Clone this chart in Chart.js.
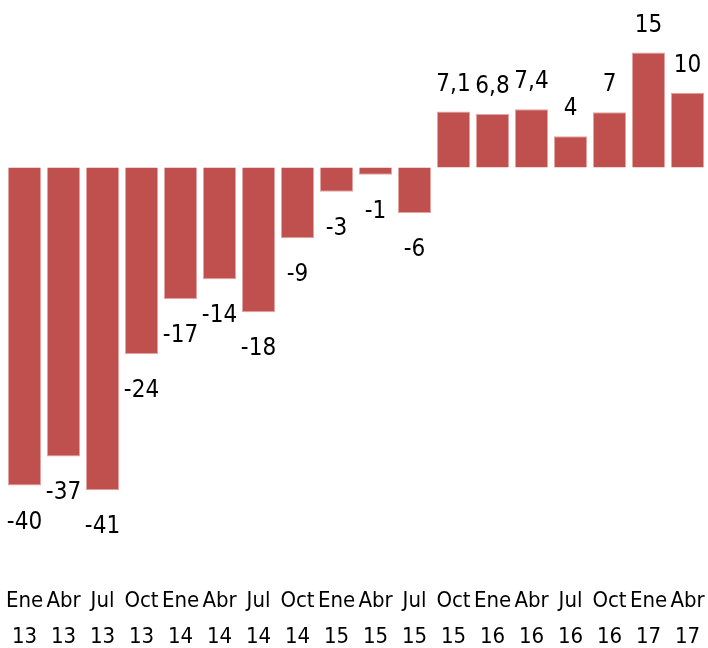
<!DOCTYPE html>
<html>
<head>
<meta charset="utf-8">
<script src="https://cdn.jsdelivr.net/npm/chart.js@4"></script>
<style>
  html, body { margin: 0; padding: 0; background: #fff; }
  #wrap { width: 708px; height: 648px; }
</style>
</head>
<body>
<div id="wrap"><canvas id="barChart" width="708" height="648"></canvas></div>
<script>
// trimestres
var meses = ['Ene', 'Abr', 'Jul', 'Oct', 'Ene', 'Abr', 'Jul', 'Oct', 'Ene', 'Abr', 'Jul', 'Oct', 'Ene', 'Abr', 'Jul', 'Oct', 'Ene', 'Abr'];
var anios = ['13', '13', '13', '13', '14', '14', '14', '14', '15', '15', '15', '15', '16', '16', '16', '16', '17', '17'];
var valores = [-40.4, -36.7, -41, -23.7, -16.7, -14.2, -18.4, -9, -3.1, -0.93, -5.8, 7.1, 6.8, 7.4, 3.95, 7, 14.6, 9.5];
var etiquetas = ['-40', '-37', '-41', '-24', '-17', '-14', '-18', '-9', '-3', '-1', '-6', '7,1', '6,8', '7,4', '4', '7', '15', '10'];

var fuente = "'DejaVu Sans Condensed', Lato, sans-serif";

var etiquetasPlugin = {
  id: 'etiquetas',
  afterDatasetsDraw: function(chart) {
    var ctx = chart.ctx;
    var meta = chart.getDatasetMeta(0);
    ctx.save();
    ctx.font = '24px ' + fuente;
    ctx.fillStyle = '#000';
    ctx.textAlign = 'center';
    ctx.textBaseline = 'alphabetic';
    meta.data.forEach(function(bar, i) {
      var y = valores[i] >= 0 ? bar.y - 21 : bar.y + 43;
      ctx.fillText(etiquetas[i], bar.x, y);
    });
    ctx.restore();
  }
};

var ctx = document.getElementById('barChart').getContext('2d');
var myChart = new Chart(ctx, {
  type: 'bar',
  data: {
    labels: meses.map(function(m, i) { return [m, anios[i]]; }),
    datasets: [{
      data: valores,
      backgroundColor: '#c0504d',
      borderColor: '#e3a3a1',
      borderWidth: 1,
      barPercentage: 0.85,
      categoryPercentage: 1
    }]
  },
  options: {
    responsive: false,
    animation: false,
    layout: { padding: { left: 5, right: 1, top: 10, bottom: -10 } },
    plugins: {
      legend: { display: false },
      tooltip: { enabled: false }
    },
    scales: {
      x: {
        grid: { display: false, drawTicks: false },
        border: { display: false },
        ticks: {
          color: '#000',
          autoSkip: false,
          maxRotation: 0,
          padding: 3,
          font: { family: fuente, size: 22, lineHeight: '36px' }
        }
      },
      y: {
        display: false,
        min: -52.4,
        max: 20
      }
    }
  },
  plugins: [etiquetasPlugin]
});
</script>
</body>
</html>
